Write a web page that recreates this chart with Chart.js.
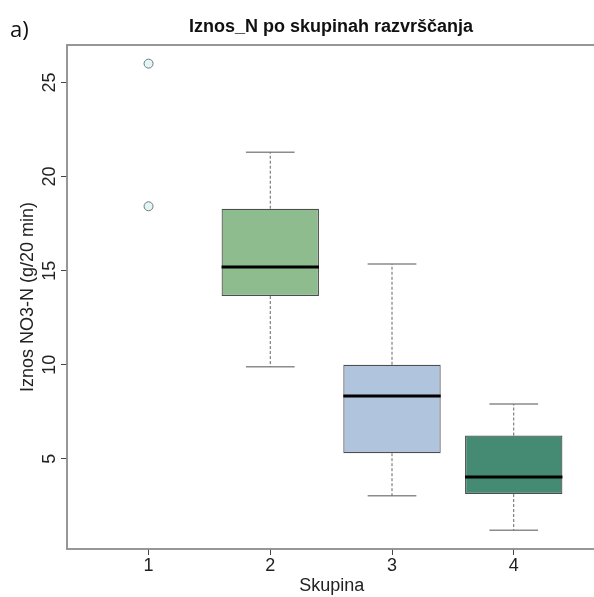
<!DOCTYPE html>
<html>
<head>
<meta charset="utf-8">
<title>Iznos_N po skupinah razvrščanja</title>
<script src="https://cdn.jsdelivr.net/npm/chart.js@4"></script>
<style>
    html, body { margin: 0; padding: 0; background: #fff; overflow: hidden; }
    #wrap { width: 602px; height: 597px; }
</style>
</head>
<body>
<div id="wrap"><canvas id="boxChart" width="602" height="597"></canvas></div>
<script>
// groups on the x axis
const groups = [1, 2, 3, 4];
// groups that have a box (1 only has outliers)
const boxGroups = [2, 3, 4];
const whiskerLow = [9.9, 3.04, 1.2];
const q1 = [13.65, 5.3, 3.13];
const median = [15.2, 8.34, 4.03];
const q3 = [18.29, 10.0, 6.24];
const whiskerHigh = [21.29, 15.36, 7.92];
// outliers
const outlierGroup = [1, 1];
const outlierValue = [26.0, 18.42];
// ticks
const yTicks = [5, 10, 15, 20, 25];

const boxColors = ['#8fbc8f', '#b0c4de', '#458b74'];
const FONT = 'Liberation Sans, Arial, sans-serif';

document.addEventListener('DOMContentLoaded', () =>
{
    // whiskers, caps and medians as broken line segments (null = gap)
    const whiskerPts = [];
    const capPts = [];
    const medianPts = [];
    boxGroups.forEach((g, i) =>
    {
        whiskerPts.push({ x: g, y: q3[i] }, { x: g, y: whiskerHigh[i] }, { x: g, y: null });
        whiskerPts.push({ x: g, y: q1[i] }, { x: g, y: whiskerLow[i] }, { x: g, y: null });
        capPts.push({ x: g - 0.2, y: whiskerHigh[i] }, { x: g + 0.2, y: whiskerHigh[i] }, { x: g, y: null });
        capPts.push({ x: g - 0.2, y: whiskerLow[i] }, { x: g + 0.2, y: whiskerLow[i] }, { x: g, y: null });
        medianPts.push({ x: g - 0.4, y: median[i] }, { x: g + 0.4, y: median[i] }, { x: g, y: null });
    });

    const boxes = boxGroups.map((g, i) => ({ x: g, y: [q1[i], q3[i]] }));
    const outliers = outlierGroup.map((g, i) => ({ x: g, y: outlierValue[i] }));

    // texts R draws outside the plot: title, panel letter, y label, rotated y tick labels, frame
    const decorPlugin = {
        id: 'rDecor',
        afterDraw: (chart) =>
        {
            const { ctx, chartArea, scales } = chart;
            ctx.save();

            ctx.strokeStyle = '#8c8c8c';
            ctx.lineWidth = 1.8;
            ctx.strokeRect(chartArea.left, chartArea.top, chartArea.right - chartArea.left, chartArea.bottom - chartArea.top);

            ctx.fillStyle = '#111';
            ctx.textAlign = 'center';
            ctx.textBaseline = 'alphabetic';
            ctx.font = 'bold 18px ' + FONT;
            ctx.fillText('Iznos_N po skupinah razvrščanja', 331, 32);

            ctx.textAlign = 'left';
            ctx.font = '22px "Open Sans", sans-serif';
            ctx.fillText('a)', 10, 37);

            ctx.fillStyle = '#222';
            ctx.textAlign = 'center';
            ctx.font = '18px ' + FONT;
            yTicks.forEach(v =>
            {
                ctx.save();
                ctx.translate(55, scales.y.getPixelForValue(v));
                ctx.rotate(-Math.PI / 2);
                ctx.fillText(String(v), 0, 0);
                ctx.restore();
            });

            ctx.save();
            ctx.translate(33, (chartArea.top + chartArea.bottom) / 2);
            ctx.rotate(-Math.PI / 2);
            ctx.fillText('Iznos NO3-N (g/20 min)', 0, 0);
            ctx.restore();

            ctx.restore();
        }
    };

    new Chart(document.getElementById('boxChart'), {
        type: 'bar',
        data: {
            datasets: [
                {
                    type: 'bar',
                    data: boxes,
                    backgroundColor: boxColors,
                    borderColor: '#4d4d4d',
                    borderWidth: 1.2,
                    borderSkipped: false,
                    barPercentage: 0.8,
                    categoryPercentage: 1,
                    order: 3
                },
                {
                    type: 'line',
                    data: whiskerPts,
                    borderColor: '#666',
                    borderWidth: 1,
                    borderDash: [3, 2],
                    pointRadius: 0,
                    spanGaps: false,
                    order: 2
                },
                {
                    type: 'line',
                    data: capPts,
                    borderColor: '#8c8c8c',
                    borderWidth: 1.5,
                    pointRadius: 0,
                    spanGaps: false,
                    order: 2
                },
                {
                    type: 'line',
                    data: medianPts,
                    borderColor: '#000',
                    borderWidth: 3,
                    pointRadius: 0,
                    spanGaps: false,
                    order: 1
                },
                {
                    type: 'line',
                    data: outliers,
                    showLine: false,
                    pointRadius: 4.5,
                    pointBackgroundColor: '#e0f7f7',
                    pointBorderColor: '#777',
                    pointBorderWidth: 1,
                    order: 0
                }
            ]
        },
        options: {
            responsive: false,
            animation: false,
            devicePixelRatio: 1,
            layout: { padding: { left: 0, top: 45, right: 1, bottom: 0 } },
            plugins: {
                legend: { display: false },
                tooltip: { enabled: false }
            },
            events: [],
            scales: {
                x: {
                    type: 'linear',
                    min: 0.33,
                    max: 4.68,
                    offset: false,
                    afterBuildTicks: (s) => { s.ticks = groups.map(v => ({ value: v })); },
                    afterFit: (s) => { s.height = 48; },
                    grid: { offset: false, drawOnChartArea: false, drawTicks: true, tickLength: 6, color: '#444' },
                    border: { display: false },
                    ticks: {
                        color: '#222',
                        padding: 0,
                        font: { family: FONT, size: 18 },
                        maxRotation: 0,
                        callback: (v) => String(v)
                    },
                    title: {
                        display: true,
                        text: 'Skupina',
                        color: '#222',
                        padding: { top: 0, bottom: 0 },
                        font: { family: FONT, size: 18 }
                    }
                },
                y: {
                    type: 'linear',
                    min: 0.21,
                    max: 26.99,
                    afterBuildTicks: (s) => { s.ticks = yTicks.map(v => ({ value: v })); },
                    afterFit: (s) => { s.width = 67; },
                    grid: { drawOnChartArea: false, drawTicks: true, tickLength: 6, color: '#444' },
                    border: { display: false },
                    ticks: { display: false }
                }
            }
        },
        plugins: [decorPlugin]
    });
});
</script>
</body>
</html>
